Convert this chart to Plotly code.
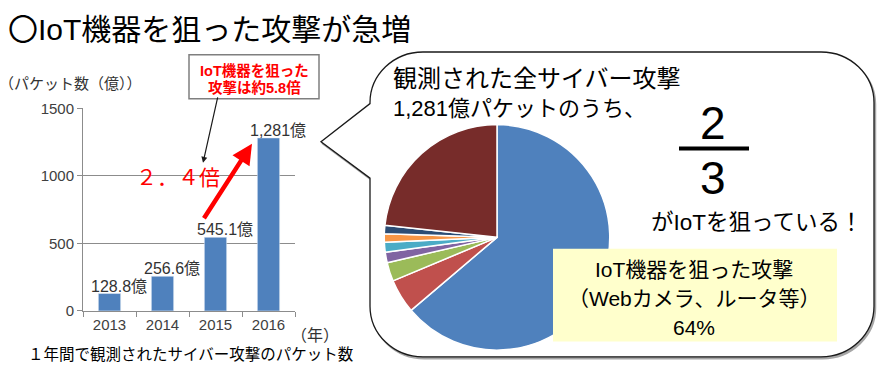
import plotly.graph_objects as go

# ---- data ----
years = [2013, 2014, 2015, 2016]
packets = [128.8, 256.6, 545.1, 1281]
packet_labels = ["128.8億", "256.6億", "545.1億", "1,281億"]
y_ticks = [0, 500, 1000, 1500]

pie_names = ["IoT機器", "その他1", "その他2", "その他3", "その他4", "その他5", "その他6", "その他7"]
pie_values = [63.8, 4.9, 2.7, 1.5, 1.4, 1.2, 1.2, 23.3]
pie_colors = ["#4F81BD", "#C0504D", "#9BBB59", "#8064A2", "#4BACC6", "#F79646", "#2C4D75", "#772C2A"]

W, H = 881, 382
JP = "Noto Sans CJK JP"
MIX = "Liberation Sans, Noto Sans CJK JP"


def px(x):
    return x / W


def py(y):
    return 1 - y / H


def path_from_px(cmds):
    out = []
    for c in cmds:
        op = c[0]
        pts = c[1:]
        coords = []
        for i in range(0, len(pts), 2):
            coords.append(f"{px(pts[i]):.5f},{py(pts[i+1]):.5f}")
        out.append(op + " " + " ".join(coords))
    return " ".join(out) + " Z"


def bubble(L, T, R, B, r, p1, tip, p2, dx=0, dy=0):
    L += dx; R += dx; T += dy; B += dy
    k = 0.5523 * r
    cmds = [
        ("M", L, T + r),
        ("C", L, T + r - k, L + r - k, T, L + r, T),
        ("L", R - r, T),
        ("C", R - r + k, T, R, T + r - k, R, T + r),
        ("L", R, B - r),
        ("C", R, B - r + k, R - r + k, B, R - r, B),
        ("L", L + r, B),
        ("C", L + r - k, B, L, B - r + k, L, B - r),
        ("L", L, p2 + dy),
        ("L", tip[0] + dx, tip[1] + dy),
        ("L", L, p1 + dy),
    ]
    return path_from_px(cmds)


fig = go.Figure()

fig.add_trace(go.Bar(
    x=years, y=packets, marker_color="#4F81BD", width=0.42,
    xaxis="x", yaxis="y", showlegend=False))

fig.add_trace(go.Pie(
    values=pie_values, labels=pie_names, marker=dict(colors=pie_colors, line=dict(color="white", width=1.5)),
    sort=False, direction="clockwise", rotation=0, textinfo="none", showlegend=False,
    domain=dict(x=[px(379), px(615)], y=[py(357), py(121)])))

grid = "#8C8C8C"
fig.update_layout(
    width=W, height=H, margin=dict(l=0, r=0, t=0, b=0, pad=0), autosize=False,
    paper_bgcolor="white", plot_bgcolor="white", showlegend=False,
    xaxis=dict(domain=[px(83), px(295)], range=[2012.5, 2016.5], tickvals=years, showline=True,
               linecolor=grid, linewidth=1, ticks="", showgrid=False, zeroline=False,
               minor=dict(tickvals=[2012.5, 2013.5, 2014.5, 2015.5, 2016.5], ticks="outside",
                          ticklen=5, tickcolor=grid, showgrid=False),
               tickfont=dict(family=MIX, size=15, color="#404040"),
               anchor="y", fixedrange=True),
    yaxis=dict(domain=[py(316), py(104)], range=[0, 1500], tickvals=y_ticks, showgrid=True, gridcolor=grid,
               showline=True, linecolor=grid, ticks="outside", ticklen=5, tickcolor=grid, zeroline=False,
               tickfont=dict(family=MIX, size=15, color="#404040"),
               anchor="x", fixedrange=True),
)

shapes = []
shapes.append(dict(type="path", xref="paper", yref="paper", layer="below",
                   path=bubble(370, 45, 874, 364, 53, 99, (321, 139), 177, dx=1.5, dy=2),
                   line=dict(color="#A6A6A6", width=1.5), fillcolor="#A6A6A6"))
shapes.append(dict(type="path", xref="paper", yref="paper", layer="below",
                   path=bubble(370, 45, 874, 364, 53, 99, (321, 139), 177),
                   line=dict(color="#1A1A1A", width=1.3), fillcolor="white"))
shapes.append(dict(type="rect", xref="paper", yref="paper", x0=px(189), x1=px(319), y0=py(94), y1=py(48),
                   line=dict(color="#7F7F7F", width=1.5), fillcolor="white", layer="above"))
shapes.append(dict(type="rect", xref="paper", yref="paper", x0=px(553), x1=px(837), y0=py(348), y1=py(251),
                   line=dict(width=0), fillcolor="#FFFFCC", layer="above"))
shapes.append(dict(type="line", xref="paper", yref="paper", x0=px(679), x1=px(749), y0=py(146), y1=py(146),
                   line=dict(color="black", width=4)))

ann = []


def text(x, y, s, size, color="black", family=JP, xanchor="center", bold=False):
    if bold:
        s = "<b>" + s + "</b>"
    ann.append(dict(xref="paper", yref="paper", x=px(x), y=py(y), text=s, showarrow=False,
                    xanchor=xanchor, yanchor="middle", font=dict(family=family, size=size, color=color)))


text(6, 21, "〇IoT機器を狙った攻撃が急増", 30, xanchor="left", family=MIX)
text(-3, 78, "（パケット数（億））", 15, color="#333333", xanchor="left", family=MIX)
text(289, 342, "（年）", 16, color="#333333", xanchor="left", family=MIX)
text(191, 362, "１年間で観測されたサイバー攻撃のパケット数", 15.5, family=MIX)
text(254, 65, "IoT機器を狙った", 14.5, color="#FF0000", bold=True, family=MIX)
text(254, 82, "攻撃は約5.8倍", 14.5, color="#FF0000", bold=True, family=MIX)
text(178, 176, "２．４倍", 21, color="#FF0000", family=MIX)

for yr, v, lab in zip(years, packets, packet_labels):
    ann.append(dict(xref="x", yref="y", x=yr, y=v, text=lab, showarrow=False, xanchor="center",
                    yanchor="bottom", xshift=9, yshift=-3,
                    font=dict(family=MIX, size=16, color="#333333")))

ann.append(dict(xref="paper", yref="paper", x=px(203), y=py(161), ax=218 - 203, ay=94 - 161,
                text="", showarrow=True, arrowhead=2, arrowsize=1,
                arrowwidth=1.2, arrowcolor="#1A1A1A"))
ann.append(dict(xref="paper", yref="paper", x=px(252), y=py(141), ax=203 - 252, ay=217 - 141,
                text="", showarrow=True, arrowhead=2, arrowsize=0.9,
                arrowwidth=4.5, arrowcolor="#FF0000"))

text(391, 73, "観測された全サイバー攻撃", 24, xanchor="left", family=MIX)
text(391, 104, "1,281億パケットのうち、", 22, xanchor="left", family=MIX)
text(713, 119, "2", 46, family="Liberation Sans")
text(713, 177, "3", 46, family="Liberation Sans")
text(756, 223, "がIoTを狙っている！", 22.5, family=MIX)
text(694, 273, "IoT機器を狙った攻撃", 21, family=MIX)
text(694, 303, "（Webカメラ、ルータ等）", 21, family=MIX)
text(694, 333, "64%", 21, family=MIX)

fig.update_layout(shapes=shapes, annotations=ann)

post = (
    "var gd=document.getElementById('{plot_id}');"
    "var css='margin:0;padding:0;overflow:hidden;width:881px;height:382px;';"
    "document.documentElement.style.cssText=css;document.body.style.cssText=css;"
    "gd.style.position='fixed';gd.style.left='0px';gd.style.top='0px';"
)
fig.write_html("out.html", config={"displayModeBar": False}, post_script=post)
